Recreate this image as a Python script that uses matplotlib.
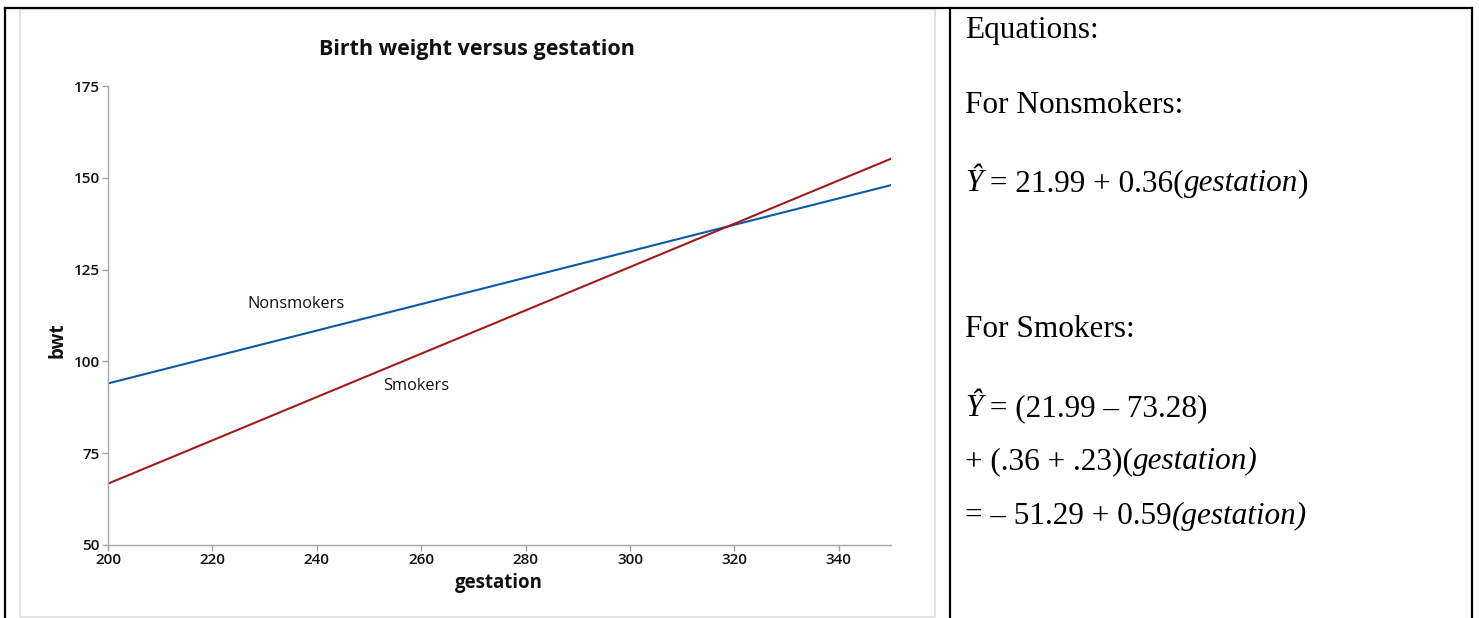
# Birth weight vs gestation: fitted lines for smokers / nonsmokers + equations panel
import matplotlib
matplotlib.use('Agg')
import matplotlib.pyplot as plt
from matplotlib.lines import Line2D
from matplotlib.patches import Rectangle

# data
gestation = [200, 350]
bwt_nonsmokers = [94.0, 148.0]
bwt_smokers = [66.7, 155.2]
xticks = [200, 220, 240, 260, 280, 300, 320, 340]
yticks = [50, 75, 100, 125, 150, 175]

# equation panel: each line is a list of (text, style) pieces
equation_lines = [
    [('Equations:', 'normal')],
    [('For Nonsmokers:', 'normal')],
    [('Ŷ', 'italic'), (' = 21.99 + 0.36(', 'normal'), ('gestation', 'italic'), (')', 'normal')],
    [('For Smokers:', 'normal')],
    [('Ŷ', 'italic'), (' = (21.99 – 73.28)', 'normal')],
    [('+ (.36 + .23)(', 'normal'), ('gestation)', 'italic')],
    [('= – 51.29 + 0.59', 'normal'), ('(gestation)', 'italic')],
]
equation_baselines = [38, 113, 191, 337, 416, 469, 524]

W, H = 1479, 618
blue = '#0b5aa6'
red = '#a01b1b'
grey = '#a6a6a6'
sans = 'Open Sans'
serif = 'Liberation Serif'

fig = plt.figure(figsize=(W / 100, H / 100), dpi=100)


def fx(x):
    return x / W


def fy(y):
    return 1 - y / H


# chart image frame (light grey) and the table borders
fig.add_artist(Rectangle((fx(20), fy(617)), fx(935) - fx(20), fy(9) - fy(617),
                         transform=fig.transFigure, fill=False, ec='#dedede', lw=1.2))
for xs, ys in [([5, 1472], [7.5, 7.5]), ([5, 5], [7.5, 618]),
               ([950, 950], [7.5, 618]), ([1472, 1472], [7.5, 618])]:
    fig.add_artist(Line2D([fx(v) for v in xs], [fy(v) for v in ys],
                          transform=fig.transFigure, color='black', lw=1.6))

ax = fig.add_axes([fx(108), fy(545), fx(891) - fx(108), fy(86) - fy(545)])
ax.plot(gestation, bwt_nonsmokers, color=blue, lw=1.5)
ax.plot(gestation, bwt_smokers, color=red, lw=1.5)
ax.set_xlim(200, 350)
ax.set_ylim(50, 175)
ax.set_xticks(xticks)
ax.set_yticks(yticks)
for s in ['top', 'right']:
    ax.spines[s].set_visible(False)
for s in ['left', 'bottom']:
    ax.spines[s].set_color(grey)
    ax.spines[s].set_linewidth(1)
ax.tick_params(colors=grey, length=4, width=1, labelcolor='#111111', labelsize=11, pad=2)
for lab in ax.get_xticklabels() + ax.get_yticklabels():
    lab.set_family(sans)
    lab.set_fontweight('semibold')

ax.text(236, 115.6, 'Nonsmokers', ha='center', va='center', family=sans, fontsize=11.8, color='#111111')
ax.text(259, 93.3, 'Smokers', ha='center', va='center', family=sans, fontsize=11.8, color='#111111')

fig.text(fx(477), fy(49), 'Birth weight versus gestation', ha='center', va='center',
         family=sans, fontweight='bold', fontsize=15.5, color='#111111')
fig.text(fx(499), fy(583), 'gestation', ha='center', va='center',
         family=sans, fontweight='bold', fontsize=13.4, color='#111111')
fig.text(fx(57), fy(340), 'bwt', ha='center', va='center', rotation=90,
         family=sans, fontweight='bold', fontsize=13.4, color='#111111')

# write each equation line piece by piece so roman and italic can mix
renderer = fig.canvas.get_renderer()
for pieces, base in zip(equation_lines, equation_baselines):
    x = 965
    for txt, style in pieces:
        t = fig.text(fx(x), fy(base), txt, ha='left', va='baseline', family=serif,
                     style=style, fontsize=22.5, color='black')
        bb = t.get_window_extent(renderer)
        x += bb.width

fig.savefig('out.png', dpi=100)
